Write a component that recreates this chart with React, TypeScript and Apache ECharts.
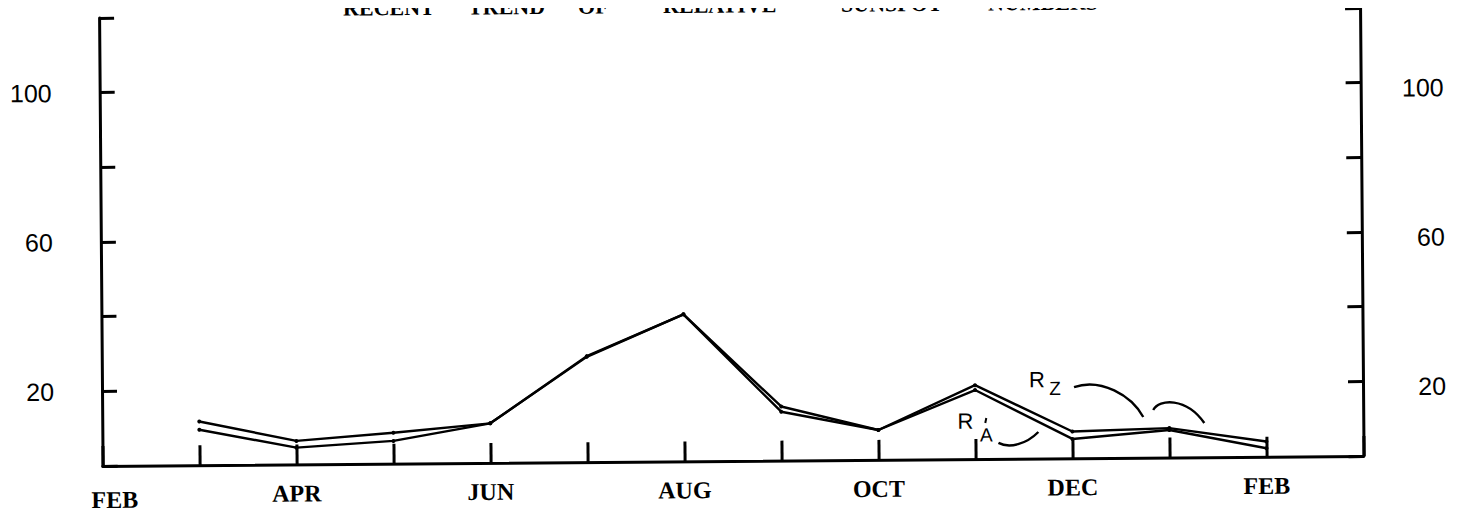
import React, { useEffect, useRef } from "react";
import * as echarts from "echarts";

// ---- data ----
const titleWords = ["RECENT", "TREND", "OF", "RELATIVE", "SUNSPOT", "NUMBERS"];
const axisMonths = ["FEB", "", "APR", "", "JUN", "", "AUG", "", "OCT", "", "DEC", "", "FEB", ""];
const dataMonths = ["MAR", "APR", "MAY", "JUN", "JUL", "AUG", "SEP", "OCT", "NOV", "DEC", "JAN", "FEB"];
const rzValues = [11.7, 6.3, 8.3, 10.6, 28.4, 39.4, 14.5, 8.0, 19.8, 7.2, 7.9, 4.1];
const raValues = [9.5, 4.5, 6.1, 10.6, 28.2, 39.4, 13.1, 8.0, 18.5, 5.2, 7.4, 2.3];
const yTickLabels = [20, 60, 100];

export default function App() {
  const ref = useRef<HTMLDivElement>(null);

  useEffect(() => {
    if (!ref.current) return;
    const chart = echarts.init(ref.current, null, { renderer: "svg" });

    const black = "#000";
    const titleX = [345, 470, 580, 665, 843, 990];
    const serif = "Liberation Serif";

    const graphic: any[] = titleWords.map((w, i) => ({
      type: "text",
      x: titleX[i],
      y: 5,
      style: {
        text: w,
        fill: black,
        font: `bold 22px "${serif}"`,
        textAlign: "left",
        verticalAlign: "middle",
      },
    }));

    const hand = (text: string, x: number, y: number, size: number) => ({
      type: "text",
      x,
      y,
      style: {
        text,
        fill: black,
        font: `${size}px "Liberation Sans"`,
        textAlign: "center",
        verticalAlign: "middle",
      },
    });
    const curve = (x1: number, y1: number, cpx1: number, cpy1: number, cpx2: number, cpy2: number, x2: number, y2: number) => ({
      type: "bezierCurve",
      shape: { x1, y1, cpx1, cpy1, cpx2, cpy2, x2, y2 },
      style: { stroke: black, lineWidth: 2.4, fill: null },
    });

    graphic.push(
      hand("R", 1036, 382, 22),
      hand("Z", 1054, 391, 19),
      curve(1073, 389.7, 1100, 380.9, 1130, 398.1, 1142, 420.2),
      curve(1152, 413.3, 1158, 402.3, 1185, 400.5, 1203, 426.7),
      hand("R", 964, 423, 22),
      hand("A", 985, 437, 19),
      {
        type: "line",
        shape: { x1: 985, y1: 420, x2: 984, y2: 425 },
        style: { stroke: black, lineWidth: 2 },
      },
      curve(997, 445, 1008, 451, 1025, 446.3, 1037, 434.4)
    );

    const lineSeries = (name: string, values: number[]) => ({
      name,
      type: "line",
      data: values.map((v, i) => [i + 1, v]),
      symbol: "circle",
      symbolSize: 4,
      itemStyle: { color: black },
      lineStyle: { color: black, width: 2.4 },
      z: 3,
    });

    const labelFont = { color: black, fontFamily: "Liberation Sans", fontSize: 25 };

    const yAxisBase = (position: string, margin: number, padTop: number) => ({
      type: "value",
      position,
      min: 0,
      max: 120,
      interval: 20,
      axisLine: { show: true, lineStyle: { color: black, width: 3 } },
      axisTick: { show: true, inside: true, length: 15, lineStyle: { color: black, width: 3 } },
      splitLine: { show: false },
      axisLabel: {
        show: true,
        margin,
        align: "right",
        ...labelFont,
        formatter: (v: number) => (yTickLabels.includes(v) ? `{n|${v}}` : ""),
        rich: { n: { ...labelFont, padding: [padTop, 0, 0, 0] } },
      },
    });

    const option: any = {
      animation: false,
      backgroundColor: "#fff",
      grid: { left: 101, right: 105, top: 13, bottom: 55 },
      xAxis: {
        type: "value",
        min: 0,
        max: 13,
        interval: 1,
        axisLine: { show: true, lineStyle: { color: black, width: 3 } },
        axisTick: { show: true, inside: true, length: 20, lineStyle: { color: black, width: 3 } },
        splitLine: { show: false },
        axisLabel: {
          margin: 17,
          color: black,
          fontFamily: serif,
          fontWeight: "bold",
          fontSize: 24,
          formatter: (v: number) => {
            const t = axisMonths[v] || "";
            return v === 0 ? `{first|${t}}` : t;
          },
          rich: {
            first: {
              padding: [5, 0, 0, 24],
              color: black,
              fontFamily: serif,
              fontWeight: "bold",
              fontSize: 24,
            },
          },
        },
      },
      yAxis: [yAxisBase("left", 48, 0), yAxisBase("right", 83, 10)],
      series: [lineSeries("RZ", rzValues), lineSeries("RA'", raValues)],
      graphic,
      tooltip: { show: false },
    };
    // dataMonths documents the month of each plotted point (MAR..FEB)
    void dataMonths;

    chart.setOption(option);
    return () => chart.dispose();
  }, []);

  return (
    <div
      style={{
        width: 1467,
        height: 516,
        margin: -8,
        overflow: "hidden",
        position: "relative",
        background: "#fff",
      }}
    >
      <div
        ref={ref}
        style={{
          width: 1467,
          height: 516,
          transform: "rotate(-0.45deg)",
          transformOrigin: "733.5px 258px",
        }}
      />
    </div>
  );
}
